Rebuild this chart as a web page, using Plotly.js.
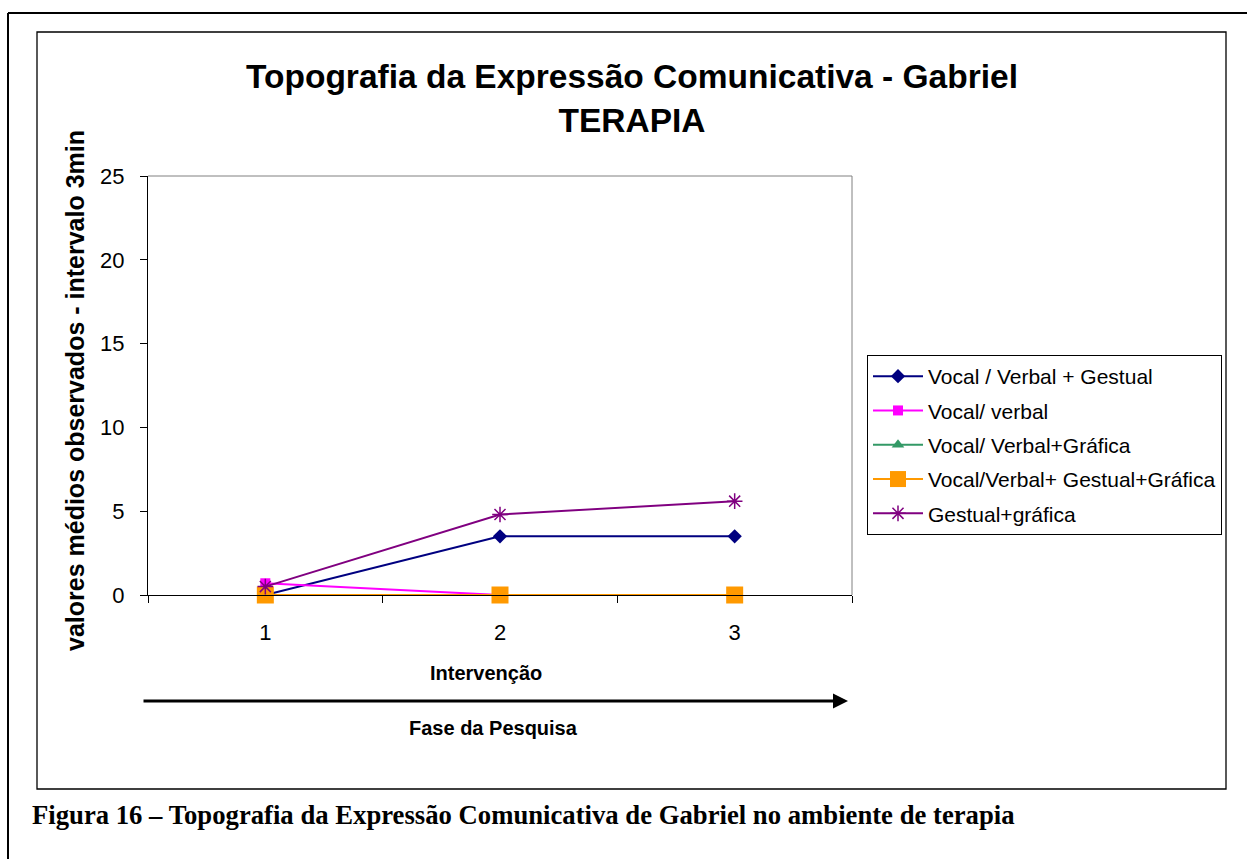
<!DOCTYPE html>
<html>
<head>
<meta charset="utf-8">
<script src="https://cdn.plot.ly/plotly-3.0.1.min.js"></script>
<style>html,body{margin:0;padding:0;background:#fff;}#chart{width:1247px;height:859px;}</style>
</head>
<body>
<div id="chart"></div>
<script>
const categories = ["1", "2", "3"];
const seriesNames = ["Vocal / Verbal + Gestual", "Vocal/ verbal", "Vocal/ Verbal+Gráfica", "Vocal/Verbal+ Gestual+Gráfica", "Gestual+gráfica"];
const vocalVerbalGestual = [0, 3.5, 3.5];
const vocalVerbal = [0.7, 0, 0];
const vocalVerbalGrafica = [0, 0, 0];
const vocalVerbalGestualGrafica = [0, 0, 0];
const gestualGrafica = [0.5, 4.8, 5.6];
const yTicks = [0, 5, 10, 15, 20, 25];

const W = 1247, H = 859;
const px = v => v / W;
const py = v => 1 - v / H;

const styles = [
  {color: "#000080", symbol: "diamond", size: 11},
  {color: "#FF00FF", symbol: "square", size: 10},
  {color: "#339966", symbol: "triangle-up", size: 11},
  {color: "#FF9900", symbol: "square", size: 17},
  {color: "#800080", symbol: "asterisk-open", size: 13}
];
const values = [vocalVerbalGestual, vocalVerbal, vocalVerbalGrafica, vocalVerbalGestualGrafica, gestualGrafica];

const traces = values.map((v, i) => ({
  type: "scatter",
  mode: "lines+markers",
  x: categories,
  y: v,
  name: seriesNames[i],
  legendgroup: "g" + i,
  line: {color: styles[i].color, width: 2},
  marker: {color: styles[i].color, symbol: styles[i].symbol, size: styles[i].size,
           line: {color: styles[i].color, width: styles[i].symbol === "asterisk-open" ? 1.5 : 0}},
  cliponaxis: false
}));

const font = "Liberation Sans, Arial, sans-serif";

const layout = {
  width: W, height: H,
  margin: {l: 0, r: 0, t: 0, b: 0},
  paper_bgcolor: "#fff",
  plot_bgcolor: "#fff",
  showlegend: true,
  title: {
    text: "<b>Topografia da Expressão Comunicativa - Gabriel<br>TERAPIA</b>",
    font: {family: font, size: 33.5, color: "#000"},
    x: px(632), xanchor: "center",
    y: py(88), yanchor: "middle", yref: "paper"
  },
  xaxis: {
    type: "category",
    domain: [px(148), px(852)],
    range: [-0.5, 2.5],
    tickson: "boundaries",
    ticks: "outside", ticklen: 7, tickcolor: "#000", tickwidth: 1,
    showline: true, linecolor: "#000", linewidth: 1,
    showgrid: false, zeroline: false,
    tickfont: {family: font, size: 22, color: "#000"},
    ticklabelstandoff: 18,
    fixedrange: true
  },
  yaxis: {
    domain: [py(595), py(176)],
    range: [0, 25],
    tickvals: yTicks,
    ticks: "outside", ticklen: 7, tickcolor: "#000", tickwidth: 1,
    showline: true, linecolor: "#000", linewidth: 1,
    showgrid: false, zeroline: false,
    tickfont: {family: font, size: 22, color: "#000"},
    ticklabelstandoff: 11,
    fixedrange: true
  },
  legend: {
    x: px(867), y: py(355), xanchor: "left", yanchor: "top",
    xref: "paper", yref: "paper",
    bordercolor: "#000", borderwidth: 1, bgcolor: "#fff",
    font: {family: font, size: 21, color: "#000"},
    itemsizing: "trace",
    itemwidth: 50,
    tracegroupgap: 4
  },
  shapes: [
    {type: "line", xref: "paper", yref: "paper", x0: px(8), x1: px(8), y0: py(13), y1: py(870), line: {color: "#000", width: 2}},
    {type: "line", xref: "paper", yref: "paper", x0: px(8), x1: px(1260), y0: py(13), y1: py(13), line: {color: "#000", width: 2}},
    {type: "rect", xref: "paper", yref: "paper", x0: px(37), x1: px(1226), y0: py(789), y1: py(32), line: {color: "#000", width: 1.3}},
    {type: "line", xref: "x domain", yref: "y domain", x0: 0, x1: 1, y0: 1, y1: 1, line: {color: "#808080", width: 1}},
    {type: "line", xref: "x domain", yref: "y domain", x0: 1, x1: 1, y0: 0, y1: 1, line: {color: "#808080", width: 1}}
  ],
  annotations: [
    {text: "<b>valores médios observados - intervalo 3min</b>", xref: "paper", yref: "paper",
     x: px(75), y: py(391), textangle: -90, showarrow: false,
     font: {family: font, size: 25, color: "#000"}, xanchor: "center", yanchor: "middle"},
    {text: "<b>Intervenção</b>", xref: "paper", yref: "paper", x: px(486), y: py(673),
     showarrow: false, font: {family: font, size: 20, color: "#000"}, xanchor: "center", yanchor: "middle"},
    {text: "<b>Fase da Pesquisa</b>", xref: "paper", yref: "paper", x: px(493), y: py(728),
     showarrow: false, font: {family: font, size: 20, color: "#000"}, xanchor: "center", yanchor: "middle"},
    {text: "", xref: "paper", yref: "paper", x: px(848), y: py(701),
     axref: "paper", ayref: "paper", ax: px(142), ay: py(701),
     showarrow: true, arrowhead: 2, arrowsize: 1, arrowwidth: 3, arrowcolor: "#000", standoff: 0, startstandoff: 0},
    {text: "<b>Figura 16 – Topografia da Expressão Comunicativa de Gabriel no ambiente de terapia</b>",
     xref: "paper", yref: "paper", x: px(30), y: py(815), xanchor: "left", yanchor: "middle",
     showarrow: false, font: {family: "Liberation Serif, Times New Roman, serif", size: 26.7, color: "#000"}}
  ]
};

Plotly.newPlot("chart", traces, layout, {displayModeBar: false, staticPlot: true});
</script>
</body>
</html>
